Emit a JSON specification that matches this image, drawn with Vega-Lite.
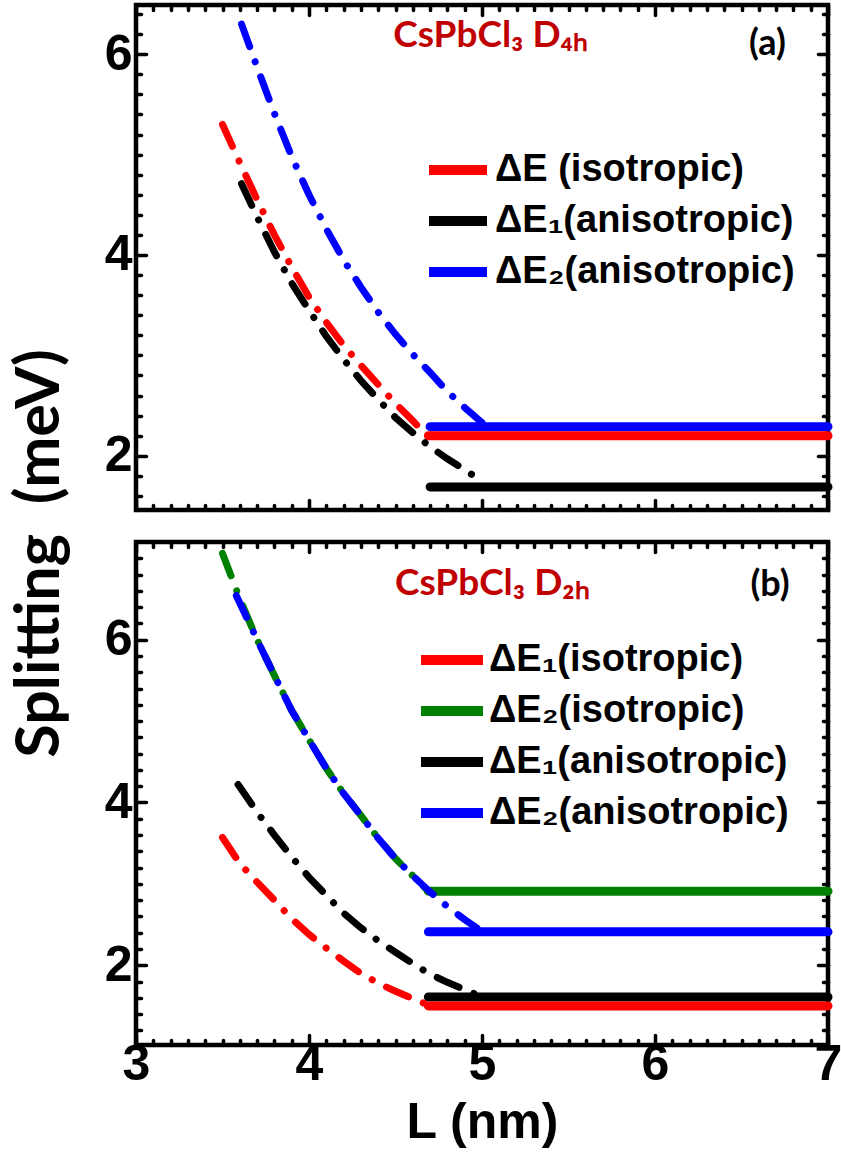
{
  "$schema": "https://vega.github.io/schema/vega-lite/v6.json",
  "background": "white",
  "padding": {"left": 6, "top": 1, "right": 0, "bottom": 0},
  "bounds": "flush",
  "spacing": 32,
  "datasets": {
    "topFlat": [
      {"L": 4.70, "E": 2.29, "s": "ΔE₂(anisotropic)"},
      {"L": 7.0, "E": 2.29, "s": "ΔE₂(anisotropic)"},
      {"L": 4.70, "E": 1.69, "s": "ΔE₁(anisotropic)"},
      {"L": 7.0, "E": 1.69, "s": "ΔE₁(anisotropic)"},
      {"L": 4.69, "E": 2.20, "s": "ΔE (isotropic)"},
      {"L": 7.0, "E": 2.20, "s": "ΔE (isotropic)"}
    ],
    "topCurves": [
      {"L": 3.61, "E": 6.30, "s": "ΔE₂(anisotropic)"},
      {"L": 3.70, "E": 5.87, "s": "ΔE₂(anisotropic)"},
      {"L": 3.80, "E": 5.41, "s": "ΔE₂(anisotropic)"},
      {"L": 3.90, "E": 4.98, "s": "ΔE₂(anisotropic)"},
      {"L": 4.00, "E": 4.60, "s": "ΔE₂(anisotropic)"},
      {"L": 4.10, "E": 4.26, "s": "ΔE₂(anisotropic)"},
      {"L": 4.20, "E": 3.95, "s": "ΔE₂(anisotropic)"},
      {"L": 4.30, "E": 3.68, "s": "ΔE₂(anisotropic)"},
      {"L": 4.40, "E": 3.43, "s": "ΔE₂(anisotropic)"},
      {"L": 4.50, "E": 3.21, "s": "ΔE₂(anisotropic)"},
      {"L": 4.60, "E": 3.01, "s": "ΔE₂(anisotropic)"},
      {"L": 4.70, "E": 2.83, "s": "ΔE₂(anisotropic)"},
      {"L": 4.80, "E": 2.64, "s": "ΔE₂(anisotropic)"},
      {"L": 4.90, "E": 2.48, "s": "ΔE₂(anisotropic)"},
      {"L": 5.00, "E": 2.33, "s": "ΔE₂(anisotropic)"},
      {"L": 3.61, "E": 4.71, "s": "ΔE₁(anisotropic)"},
      {"L": 3.70, "E": 4.38, "s": "ΔE₁(anisotropic)"},
      {"L": 3.80, "E": 4.03, "s": "ΔE₁(anisotropic)"},
      {"L": 3.90, "E": 3.72, "s": "ΔE₁(anisotropic)"},
      {"L": 4.00, "E": 3.45, "s": "ΔE₁(anisotropic)"},
      {"L": 4.10, "E": 3.19, "s": "ΔE₁(anisotropic)"},
      {"L": 4.20, "E": 2.96, "s": "ΔE₁(anisotropic)"},
      {"L": 4.30, "E": 2.75, "s": "ΔE₁(anisotropic)"},
      {"L": 4.40, "E": 2.56, "s": "ΔE₁(anisotropic)"},
      {"L": 4.50, "E": 2.38, "s": "ΔE₁(anisotropic)"},
      {"L": 4.60, "E": 2.23, "s": "ΔE₁(anisotropic)"},
      {"L": 4.70, "E": 2.09, "s": "ΔE₁(anisotropic)"},
      {"L": 4.80, "E": 1.97, "s": "ΔE₁(anisotropic)"},
      {"L": 4.90, "E": 1.86, "s": "ΔE₁(anisotropic)"},
      {"L": 4.98, "E": 1.77, "s": "ΔE₁(anisotropic)"},
      {"L": 3.50, "E": 5.30, "s": "ΔE (isotropic)"},
      {"L": 3.60, "E": 4.92, "s": "ΔE (isotropic)"},
      {"L": 3.70, "E": 4.55, "s": "ΔE (isotropic)"},
      {"L": 3.80, "E": 4.20, "s": "ΔE (isotropic)"},
      {"L": 3.90, "E": 3.88, "s": "ΔE (isotropic)"},
      {"L": 4.00, "E": 3.58, "s": "ΔE (isotropic)"},
      {"L": 4.10, "E": 3.33, "s": "ΔE (isotropic)"},
      {"L": 4.20, "E": 3.10, "s": "ΔE (isotropic)"},
      {"L": 4.30, "E": 2.90, "s": "ΔE (isotropic)"},
      {"L": 4.40, "E": 2.71, "s": "ΔE (isotropic)"},
      {"L": 4.50, "E": 2.52, "s": "ΔE (isotropic)"},
      {"L": 4.60, "E": 2.35, "s": "ΔE (isotropic)"},
      {"L": 4.68, "E": 2.20, "s": "ΔE (isotropic)"}
    ],
    "botFlat": [
      {"L": 4.69, "E": 2.91, "s": "ΔE₂(isotropic)"},
      {"L": 7.0, "E": 2.91, "s": "ΔE₂(isotropic)"},
      {"L": 4.69, "E": 2.41, "s": "ΔE₂(anisotropic)"},
      {"L": 7.0, "E": 2.41, "s": "ΔE₂(anisotropic)"},
      {"L": 4.69, "E": 1.61, "s": "ΔE₁(anisotropic)"},
      {"L": 7.0, "E": 1.61, "s": "ΔE₁(anisotropic)"},
      {"L": 4.69, "E": 1.50, "s": "ΔE₁(isotropic)"},
      {"L": 7.0, "E": 1.50, "s": "ΔE₁(isotropic)"}
    ],
    "botCurves": [
      {"L": 3.50, "E": 7.06, "s": "ΔE₂(isotropic)"},
      {"L": 3.60, "E": 6.50, "s": "ΔE₂(isotropic)"},
      {"L": 3.70, "E": 6.00, "s": "ΔE₂(isotropic)"},
      {"L": 3.80, "E": 5.56, "s": "ΔE₂(isotropic)"},
      {"L": 3.90, "E": 5.13, "s": "ΔE₂(isotropic)"},
      {"L": 4.00, "E": 4.77, "s": "ΔE₂(isotropic)"},
      {"L": 4.10, "E": 4.42, "s": "ΔE₂(isotropic)"},
      {"L": 4.20, "E": 4.11, "s": "ΔE₂(isotropic)"},
      {"L": 4.30, "E": 3.84, "s": "ΔE₂(isotropic)"},
      {"L": 4.40, "E": 3.56, "s": "ΔE₂(isotropic)"},
      {"L": 4.50, "E": 3.31, "s": "ΔE₂(isotropic)"},
      {"L": 4.60, "E": 3.10, "s": "ΔE₂(isotropic)"},
      {"L": 4.69, "E": 2.91, "s": "ΔE₂(isotropic)"},
      {"L": 3.58, "E": 6.54, "s": "ΔE₂(anisotropic)"},
      {"L": 3.70, "E": 6.00, "s": "ΔE₂(anisotropic)"},
      {"L": 3.80, "E": 5.56, "s": "ΔE₂(anisotropic)"},
      {"L": 3.90, "E": 5.13, "s": "ΔE₂(anisotropic)"},
      {"L": 4.00, "E": 4.77, "s": "ΔE₂(anisotropic)"},
      {"L": 4.10, "E": 4.42, "s": "ΔE₂(anisotropic)"},
      {"L": 4.20, "E": 4.11, "s": "ΔE₂(anisotropic)"},
      {"L": 4.30, "E": 3.84, "s": "ΔE₂(anisotropic)"},
      {"L": 4.40, "E": 3.56, "s": "ΔE₂(anisotropic)"},
      {"L": 4.50, "E": 3.31, "s": "ΔE₂(anisotropic)"},
      {"L": 4.60, "E": 3.10, "s": "ΔE₂(anisotropic)"},
      {"L": 4.70, "E": 2.90, "s": "ΔE₂(anisotropic)"},
      {"L": 4.80, "E": 2.72, "s": "ΔE₂(anisotropic)"},
      {"L": 4.90, "E": 2.56, "s": "ΔE₂(anisotropic)"},
      {"L": 4.97, "E": 2.46, "s": "ΔE₂(anisotropic)"},
      {"L": 3.59, "E": 4.22, "s": "ΔE₁(anisotropic)"},
      {"L": 3.70, "E": 3.88, "s": "ΔE₁(anisotropic)"},
      {"L": 3.80, "E": 3.60, "s": "ΔE₁(anisotropic)"},
      {"L": 3.90, "E": 3.33, "s": "ΔE₁(anisotropic)"},
      {"L": 4.00, "E": 3.08, "s": "ΔE₁(anisotropic)"},
      {"L": 4.10, "E": 2.86, "s": "ΔE₁(anisotropic)"},
      {"L": 4.20, "E": 2.64, "s": "ΔE₁(anisotropic)"},
      {"L": 4.30, "E": 2.46, "s": "ΔE₁(anisotropic)"},
      {"L": 4.40, "E": 2.30, "s": "ΔE₁(anisotropic)"},
      {"L": 4.50, "E": 2.16, "s": "ΔE₁(anisotropic)"},
      {"L": 4.60, "E": 2.02, "s": "ΔE₁(anisotropic)"},
      {"L": 4.70, "E": 1.89, "s": "ΔE₁(anisotropic)"},
      {"L": 4.80, "E": 1.79, "s": "ΔE₁(anisotropic)"},
      {"L": 4.90, "E": 1.70, "s": "ΔE₁(anisotropic)"},
      {"L": 4.98, "E": 1.63, "s": "ΔE₁(anisotropic)"},
      {"L": 3.50, "E": 3.57, "s": "ΔE₁(isotropic)"},
      {"L": 3.60, "E": 3.25, "s": "ΔE₁(isotropic)"},
      {"L": 3.70, "E": 3.02, "s": "ΔE₁(isotropic)"},
      {"L": 3.80, "E": 2.80, "s": "ΔE₁(isotropic)"},
      {"L": 3.90, "E": 2.57, "s": "ΔE₁(isotropic)"},
      {"L": 4.00, "E": 2.38, "s": "ΔE₁(isotropic)"},
      {"L": 4.10, "E": 2.21, "s": "ΔE₁(isotropic)"},
      {"L": 4.20, "E": 2.05, "s": "ΔE₁(isotropic)"},
      {"L": 4.30, "E": 1.90, "s": "ΔE₁(isotropic)"},
      {"L": 4.40, "E": 1.78, "s": "ΔE₁(isotropic)"},
      {"L": 4.50, "E": 1.68, "s": "ΔE₁(isotropic)"},
      {"L": 4.60, "E": 1.59, "s": "ΔE₁(isotropic)"},
      {"L": 4.68, "E": 1.52, "s": "ΔE₁(isotropic)"}
    ],
    "topNote": [{"L": 5.05, "E": 6.07, "t": "CsPbCl₃ D₄ₕ"}],
    "topTag": [{"L": 6.65, "E": 6.10, "t": "(a)"}],
    "botNote": [{"L": 5.06, "E": 6.55, "t": "CsPbCl₃ D₂ₕ"}],
    "botTag": [{"L": 6.665, "E": 6.67, "t": "(b)"}]
  },
  "vconcat": [
    {
      "width": 692,
      "height": 505,
      "layer": [
        {
          "data": {"name": "topFlat"},
          "mark": {"type": "line", "strokeWidth": 9, "strokeCap": "round"},
          "encoding": {
            "x": {"field": "L", "type": "quantitative", "scale": {"domain": [3, 7], "nice": false, "zero": false},
              "axis": {"orient": "bottom", "values": [3, 4, 5, 6, 7], "tickSize": -10, "tickWidth": 3.5, "labels": false, "title": null}},
            "y": {"field": "E", "type": "quantitative", "scale": {"domain": [1.46, 6.49], "nice": false, "zero": false},
              "axis": {"orient": "left", "values": [2, 4, 6], "tickSize": -10, "tickWidth": 3.5, "labelPadding": 14,
                "title": "Splitting\u00a0 (meV)", "titleFont": "Lato", "titleFontSize": 61, "titleFontWeight": "bold", "titleColor": "black",
                "titleAngle": 270, "titleAlign": "center", "titleBaseline": "alphabetic", "titleX": -78, "titleY": 548}},
            "color": {"field": "s", "type": "nominal",
              "scale": {"domain": ["ΔE (isotropic)", "ΔE₁(anisotropic)", "ΔE₂(anisotropic)"], "range": ["#FF0000", "#000000", "#0000FF"]},
              "legend": {"orient": "none", "legendX": 297, "legendY": 140, "title": null, "symbolType": "M-1.45,0H1.45", "symbolSize": 1600,
                "symbolStrokeWidth": 10, "symbolDash": [1, 0], "labelFont": "Liberation Sans", "labelFontSize": 38, "labelFontWeight": "bold",
                "labelColor": "black", "rowPadding": 6, "labelOffset": 12, "padding": 0, "labelLimit": 0}}
          }
        },
        {
          "data": {"name": "topCurves"},
          "mark": {"type": "line", "strokeWidth": 7, "strokeCap": "round", "strokeDash": [24, 16, 0.1, 16]},
          "encoding": {
            "x": {"field": "L", "type": "quantitative",
              "axis": {"orient": "bottom", "values": [3.1,3.2,3.3,3.4,3.5,3.6,3.7,3.8,3.9,4.1,4.2,4.3,4.4,4.5,4.6,4.7,4.8,4.9,5.1,5.2,5.3,5.4,5.5,5.6,5.7,5.8,5.9,6.1,6.2,6.3,6.4,6.5,6.6,6.7,6.8,6.9], "tickSize": -5, "tickWidth": 3.5, "labels": false, "title": null}},
            "y": {"field": "E", "type": "quantitative",
              "axis": {"orient": "left", "values": [1.6,1.8,2.2,2.4,2.6,2.8,3,3.2,3.4,3.6,3.8,4.2,4.4,4.6,4.8,5,5.2,5.4,5.6,5.8,6.2,6.4], "tickSize": -5, "tickWidth": 3.5, "labels": false, "title": null}},
            "color": {"field": "s", "type": "nominal"}
          }
        },
        {
          "data": {"name": "topNote"},
          "mark": {"type": "text", "font": "Lato", "fontSize": 37, "fontWeight": "bold", "color": "#C00000", "align": "center", "baseline": "alphabetic"},
          "encoding": {
            "x": {"field": "L", "type": "quantitative",
              "axis": {"orient": "top", "values": [3, 4, 5, 6, 7], "tickSize": -10, "tickWidth": 3.5, "labels": false, "title": null}},
            "y": {"field": "E", "type": "quantitative",
              "axis": {"orient": "right", "values": [2, 4, 6], "tickSize": -10, "tickWidth": 3.5, "labels": false, "title": null}},
            "text": {"field": "t"}
          }
        },
        {
          "data": {"name": "topTag"},
          "mark": {"type": "text", "font": "Lato", "fontSize": 36, "fontWeight": "bold", "color": "black", "align": "center", "baseline": "middle"},
          "encoding": {
            "x": {"field": "L", "type": "quantitative",
              "axis": {"orient": "top", "values": [3.1,3.2,3.3,3.4,3.5,3.6,3.7,3.8,3.9,4.1,4.2,4.3,4.4,4.5,4.6,4.7,4.8,4.9,5.1,5.2,5.3,5.4,5.5,5.6,5.7,5.8,5.9,6.1,6.2,6.3,6.4,6.5,6.6,6.7,6.8,6.9], "tickSize": -5, "tickWidth": 3.5, "labels": false, "title": null}},
            "y": {"field": "E", "type": "quantitative",
              "axis": {"orient": "right", "values": [1.6,1.8,2.2,2.4,2.6,2.8,3,3.2,3.4,3.6,3.8,4.2,4.4,4.6,4.8,5,5.2,5.4,5.6,5.8,6.2,6.4], "tickSize": -5, "tickWidth": 3.5, "labels": false, "title": null}},
            "text": {"field": "t"}
          }
        }
      ],
      "resolve": {"axis": {"x": "independent", "y": "independent"}}
    },
    {
      "width": 692,
      "height": 503,
      "layer": [
        {
          "data": {"name": "botFlat"},
          "mark": {"type": "line", "strokeWidth": 9, "strokeCap": "round"},
          "encoding": {
            "x": {"field": "L", "type": "quantitative", "scale": {"domain": [3, 7], "nice": false, "zero": false},
              "axis": {"orient": "bottom", "values": [3, 4, 5, 6, 7], "tickSize": -10, "tickWidth": 3.5, "labelPadding": 4,
                "title": "L (nm)", "titleFont": "Liberation Sans", "titleFontSize": 50, "titleFontWeight": "bold", "titleColor": "black", "titlePadding": 8}},
            "y": {"field": "E", "type": "quantitative", "scale": {"domain": [1.02, 7.2], "nice": false, "zero": false},
              "axis": {"orient": "left", "values": [2, 4, 6], "tickSize": -10, "tickWidth": 3.5, "labelPadding": 14, "title": null}},
            "color": {"field": "s", "type": "nominal",
              "scale": {"domain": ["ΔE₁(isotropic)", "ΔE₂(isotropic)", "ΔE₁(anisotropic)", "ΔE₂(anisotropic)"], "range": ["#FF0000", "#008000", "#000000", "#0000FF"]},
              "legend": {"orient": "none", "legendX": 291, "legendY": 93, "title": null, "symbolType": "M-1.55,0H1.55", "symbolSize": 1600,
                "symbolStrokeWidth": 10, "symbolDash": [1, 0], "labelFont": "Liberation Sans", "labelFontSize": 38, "labelFontWeight": "bold",
                "labelColor": "black", "rowPadding": 6, "labelOffset": 12, "padding": 0, "labelLimit": 0}}
          }
        },
        {
          "data": {"name": "botCurves"},
          "mark": {"type": "line", "strokeWidth": 7, "strokeCap": "round", "strokeDash": [24, 16, 0.1, 16]},
          "encoding": {
            "x": {"field": "L", "type": "quantitative",
              "axis": {"orient": "bottom", "values": [3.1,3.2,3.3,3.4,3.5,3.6,3.7,3.8,3.9,4.1,4.2,4.3,4.4,4.5,4.6,4.7,4.8,4.9,5.1,5.2,5.3,5.4,5.5,5.6,5.7,5.8,5.9,6.1,6.2,6.3,6.4,6.5,6.6,6.7,6.8,6.9], "tickSize": -5, "tickWidth": 3.5, "labels": false, "title": null}},
            "y": {"field": "E", "type": "quantitative",
              "axis": {"orient": "left", "values": [1.2,1.4,1.6,1.8,2.2,2.4,2.6,2.8,3,3.2,3.4,3.6,3.8,4.2,4.4,4.6,4.8,5,5.2,5.4,5.6,5.8,6.2,6.4,6.6,6.8,7], "tickSize": -5, "tickWidth": 3.5, "labels": false, "title": null}},
            "color": {"field": "s", "type": "nominal"}
          }
        },
        {
          "data": {"name": "botNote"},
          "mark": {"type": "text", "font": "Lato", "fontSize": 37, "fontWeight": "bold", "color": "#C00000", "align": "center", "baseline": "alphabetic"},
          "encoding": {
            "x": {"field": "L", "type": "quantitative",
              "axis": {"orient": "top", "values": [3, 4, 5, 6, 7], "tickSize": -10, "tickWidth": 3.5, "labels": false, "title": null}},
            "y": {"field": "E", "type": "quantitative",
              "axis": {"orient": "right", "values": [2, 4, 6], "tickSize": -10, "tickWidth": 3.5, "labels": false, "title": null}},
            "text": {"field": "t"}
          }
        },
        {
          "data": {"name": "botTag"},
          "mark": {"type": "text", "font": "Lato", "fontSize": 36, "fontWeight": "bold", "color": "black", "align": "center", "baseline": "middle"},
          "encoding": {
            "x": {"field": "L", "type": "quantitative",
              "axis": {"orient": "top", "values": [3.1,3.2,3.3,3.4,3.5,3.6,3.7,3.8,3.9,4.1,4.2,4.3,4.4,4.5,4.6,4.7,4.8,4.9,5.1,5.2,5.3,5.4,5.5,5.6,5.7,5.8,5.9,6.1,6.2,6.3,6.4,6.5,6.6,6.7,6.8,6.9], "tickSize": -5, "tickWidth": 3.5, "labels": false, "title": null}},
            "y": {"field": "E", "type": "quantitative",
              "axis": {"orient": "right", "values": [1.2,1.4,1.6,1.8,2.2,2.4,2.6,2.8,3,3.2,3.4,3.6,3.8,4.2,4.4,4.6,4.8,5,5.2,5.4,5.6,5.8,6.2,6.4,6.6,6.8,7], "tickSize": -5, "tickWidth": 3.5, "labels": false, "title": null}},
            "text": {"field": "t"}
          }
        }
      ],
      "resolve": {"axis": {"x": "independent", "y": "independent"}}
    }
  ],
  "resolve": {"scale": {"x": "independent", "y": "independent", "color": "independent"}, "legend": {"color": "independent"}},
  "config": {
    "view": {"stroke": "black", "strokeWidth": 4.5},
    "axis": {
      "domain": false, "grid": false, "tickColor": "black", "tickCap": "round",
      "labelFont": "Liberation Sans", "labelFontSize": 50, "labelFontWeight": "bold", "labelColor": "black",
      "labelFlush": false, "labelOverlap": false
    }
  }
}
